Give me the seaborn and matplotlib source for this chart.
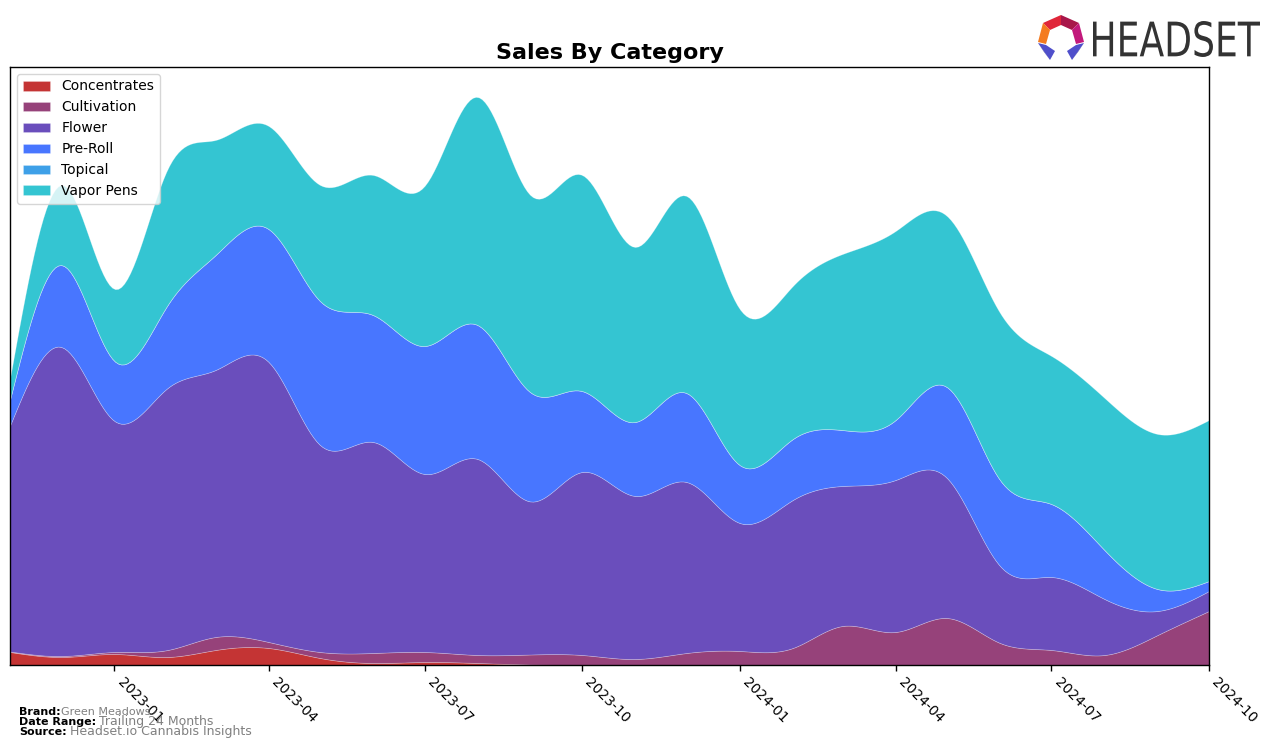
import matplotlib
matplotlib.use("Agg")
import matplotlib.dates as mdates
import matplotlib.pyplot as plt
import numpy as np
import pandas as pd
import seaborn as sns
from matplotlib.font_manager import FontProperties
from matplotlib.patches import PathPatch, Polygon
from matplotlib.path import Path
from matplotlib.textpath import TextPath

# Monthly sales by category (arbitrary units)
MONTHS = ['2022-11-01', '2022-12-01', '2023-01-01', '2023-02-01', '2023-03-01', '2023-04-01',
          '2023-05-01', '2023-06-01', '2023-07-01', '2023-08-01', '2023-09-01', '2023-10-01',
          '2023-11-01', '2023-12-01', '2024-01-01', '2024-02-01', '2024-03-01', '2024-04-01',
          '2024-05-01', '2024-06-01', '2024-07-01', '2024-08-01', '2024-09-01', '2024-10-01']
CATEGORIES = ['Concentrates', 'Cultivation', 'Flower', 'Pre-Roll', 'Topical', 'Vapor Pens']
COLORS = ['#C43434', '#96427A', '#6A4EBC', '#4876FF', '#3EA0E8', '#34C5D2']

concentrates = [13, 8, 11, 8, 15, 17, 7, 2, 3, 2, 0.5, 0,
                0, 0, 0, 0, 0, 0, 0, 0, 0, 0, 0, 0]
cultivation = [0.5, 1, 2, 7, 13, 6, 6, 10, 10, 8, 10, 10,
               6, 12, 14, 17, 39, 33, 47, 22, 15, 10, 30, 54]
flower = [226, 309, 231, 262, 267, 280, 207, 211, 178, 196, 153, 183,
          163, 171, 128, 148, 140, 152, 140, 77, 73, 56, 24, 20]
pre_roll = [26, 82, 60, 83, 115, 133, 144, 127, 128, 134, 109, 81,
            74, 89, 58, 61, 56, 60, 91, 86, 73, 49, 22, 10]
topical = [0, 0, 0, 0, 0, 0, 0, 0, 0, 0, 0, 0,
           0, 0, 0, 0, 0, 0, 0, 0, 0, 0, 0, 0]
vapor_pens = [21, 80, 72, 136, 115, 103, 116, 140, 160, 228, 197, 216,
              175, 197, 156, 153, 176, 189, 171, 167, 148, 152, 155, 161]

W, H = 1276, 748


def smooth(x, y, xs):
    """ Natural cubic spline through the monthly points, for a smooth stack. """
    x = np.asarray(x, float)
    y = np.asarray(y, float)
    n = len(x)
    h = np.diff(x)
    A = np.zeros((n, n))
    rhs = np.zeros(n)
    A[0, 0] = A[-1, -1] = 1
    for i in range(1, n - 1):
        A[i, i - 1] = h[i - 1]
        A[i, i] = 2 * (h[i - 1] + h[i])
        A[i, i + 1] = h[i]
        rhs[i] = 3 * ((y[i + 1] - y[i]) / h[i] - (y[i] - y[i - 1]) / h[i - 1])
    c = np.linalg.solve(A, rhs)
    b = (y[1:] - y[:-1]) / h - h * (2 * c[:-1] + c[1:]) / 3
    d = (c[1:] - c[:-1]) / (3 * h)
    idx = np.clip(np.searchsorted(x, xs, side='right') - 1, 0, n - 2)
    dx = xs - x[idx]
    out = y[idx] + b[idx] * dx + c[idx] * dx ** 2 + d[idx] * dx ** 3
    return np.clip(out, 0, None)


def px(x, y):
    # pixel position (from top-left) -> figure fraction
    return (x / W, 1 - y / H)


sns.set_style("ticks", {"axes.edgecolor": "black", "xtick.color": "black",
                        "text.color": "black", "axes.labelcolor": "black"})
plt.rcParams['font.family'] = ['DejaVu Sans']

df = pd.DataFrame({'month': pd.to_datetime(MONTHS), 'Concentrates': concentrates,
                   'Cultivation': cultivation, 'Flower': flower, 'Pre-Roll': pre_roll,
                   'Topical': topical, 'Vapor Pens': vapor_pens})

x_num = mdates.date2num(df['month'])
x_fine = np.linspace(x_num[0], x_num[-1], 400)
layers = [smooth(x_num, df[cat].values, x_fine) for cat in CATEGORIES]

fig = plt.figure(figsize=(W / 100, H / 100), dpi=100)
ax = fig.add_axes([10 / W, 1 - 665 / H, 1199 / W, 598 / H])

ax.stackplot(x_fine, *layers, labels=CATEGORIES, colors=COLORS,
             edgecolor=(1, 1, 1, 0.3), linewidth=0.5)

ax.set_xlim(x_num[0], x_num[-1])
ax.set_ylim(0, 598)
ax.set_yticks([])
ax.xaxis.set_major_locator(mdates.MonthLocator(bymonth=[1, 4, 7, 10]))
ax.xaxis.set_major_formatter(mdates.DateFormatter('%Y-%m'))
plt.setp(ax.get_xticklabels(), rotation=-45, ha='left', fontsize=10, color='black')
ax.tick_params(axis='x', length=4, width=1)
for s in ax.spines.values():
    s.set_visible(True)
    s.set_linewidth(1)
ax.set_title('Sales By Category', fontsize=16, fontweight='bold', pad=6, color='black')

ax.legend(loc='upper left', fontsize=10, frameon=True)

# Footer
fig.text(*px(19, 712), 'Brand:', fontsize=8, fontweight='bold', va='center')
fig.text(*px(61, 712), 'Green Meadows', fontsize=8, color='gray', va='center')
fig.text(*px(19, 722), 'Date Range:', fontsize=8, fontweight='bold', va='center')
fig.text(*px(99, 722), 'Trailing 24 Months', fontsize=9, color='gray', va='center')
fig.text(*px(19, 732), 'Source:', fontsize=8, fontweight='bold', va='center')
fig.text(*px(70, 732), 'Headset.io Cannabis Insights', fontsize=9, color='gray', va='center')

# Logo: icon
icon = [
    ([(1043, 23), (1061, 15), (1061, 25), (1050, 30)], '#E0263A'),
    ([(1061, 15), (1079, 23), (1072, 30), (1061, 25)], '#A8174A'),
    ([(1079, 23), (1084, 42), (1076, 44), (1072, 30)], '#C2197C'),
    ([(1043, 23), (1050, 30), (1046, 44), (1038, 42)], '#F47B20'),
    ([(1038, 43), (1046, 45), (1055, 51), (1050, 60)], '#4F4FCB'),
    ([(1038, 43), (1050, 60), (1044, 52)], '#2F2E8E'),
    ([(1084, 43), (1076, 45), (1067, 51), (1072, 60)], '#4F4FCB'),
    ([(1084, 43), (1072, 60), (1078, 52)], '#2F2E8E'),
]
for pts, col in icon:
    fig.add_artist(Polygon([px(a, b) for a, b in pts], closed=True, facecolor=col,
                           edgecolor='none', transform=fig.transFigure))

# Logo: word mark
tp = TextPath((0, 0), 'HEADSET', size=1, prop=FontProperties(family='DejaVu Sans'))
ext = tp.get_extents()
verts = tp.vertices.copy()
x0, x1, y0, y1 = 1093, 1260, 57, 21
vx = x0 + (verts[:, 0] - ext.x0) / ext.width * (x1 - x0)
vy = y0 + (verts[:, 1] - ext.y0) / ext.height * (y1 - y0)
logo_path = Path(np.column_stack([vx / W, 1 - vy / H]), tp.codes)
fig.add_artist(PathPatch(logo_path, facecolor='#333333', edgecolor='none',
                         transform=fig.transFigure))

fig.savefig('out.png', dpi=100)
